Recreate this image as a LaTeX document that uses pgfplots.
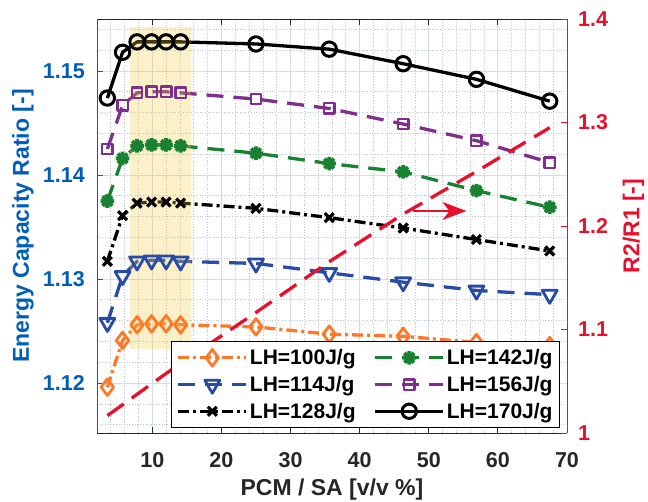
\documentclass[border=0pt]{standalone}
\usepackage{fontspec}
\setmainfont{Liberation Sans}
\usepackage{pgfplots}
\pgfplotsset{compat=1.18}
\usetikzlibrary{arrows.meta}

\definecolor{cOrange}{RGB}{255,120,40}
\definecolor{cBlue}{RGB}{40,75,165}
\definecolor{cGreen}{RGB}{25,130,50}
\definecolor{cPurple}{RGB}{126,47,142}
\definecolor{cRed}{RGB}{232,17,45}
\definecolor{cLeft}{RGB}{0,94,184}
\definecolor{axisgray}{RGB}{38,38,38}
\definecolor{gridmaj}{RGB}{212,220,234}
\definecolor{gridmin}{RGB}{185,195,212}
\definecolor{cHighlight}{RGB}{244,201,58}

% eight-armed star marker
\pgfdeclareplotmark{burst}{%
  \pgfpathmoveto{\pgfqpoint{-\pgfplotmarksize}{0pt}}\pgfpathlineto{\pgfqpoint{\pgfplotmarksize}{0pt}}%
  \pgfpathmoveto{\pgfqpoint{0pt}{-\pgfplotmarksize}}\pgfpathlineto{\pgfqpoint{0pt}{\pgfplotmarksize}}%
  \pgfpathmoveto{\pgfqpointpolar{45}{\pgfplotmarksize}}\pgfpathlineto{\pgfqpointpolar{225}{\pgfplotmarksize}}%
  \pgfpathmoveto{\pgfqpointpolar{135}{\pgfplotmarksize}}\pgfpathlineto{\pgfqpointpolar{315}{\pgfplotmarksize}}%
  \pgfusepathqstroke}

\pgfplotsset{
  lh100/.style={line width=3.3pt, line join=round, cOrange, dash pattern=on 11pt off 4pt on 3pt off 4pt,
    mark=diamond, mark size=8.3pt, mark options={solid, line width=2.8pt}},
  lh114/.style={line width=3.3pt, line join=round, cBlue, dash pattern=on 17pt off 10pt,
    mark=triangle, mark size=8.7pt, mark options={solid, rotate=180, line width=2.8pt}},
  lh128/.style={line width=3.3pt, line join=round, black, dash pattern=on 11pt off 4pt on 3pt off 4pt,
    mark=x, mark size=6.3pt, mark options={solid, line width=3.2pt}},
  lh142/.style={line width=3.3pt, line join=round, cGreen, dash pattern=on 17pt off 10pt,
    mark=burst, mark size=6.8pt, mark options={solid, line width=3.8pt}},
  lh156/.style={line width=3.3pt, line join=round, cPurple, dash pattern=on 17pt off 10pt,
    mark=square, mark size=5.2pt, mark options={solid, line width=2.4pt}},
  lh170/.style={line width=3.3pt, line join=round, black, solid,
    mark=o, mark size=7.2pt, mark options={solid, line width=3pt}},
}
\newcommand{\ticksfont}{\fontsize{21.5}{24}\selectfont\bfseries}

\pgfplotstableread{
x     r100   r114   r128   r142   r156   r170
3.5   1.1196 1.1258 1.1317 1.1375 1.1425 1.1474
5.7   1.1241 1.1303 1.1361 1.1416 1.1467 1.1518
7.8   1.1256 1.1317 1.1373 1.1428 1.1479 1.1528
9.9   1.1257 1.1318 1.1374 1.1429 1.1480 1.1528
12.0  1.1257 1.1318 1.1374 1.1429 1.1480 1.1528
14.1  1.1256 1.1317 1.1373 1.1428 1.1479 1.1528
25.0  1.1254 1.1315 1.1368 1.1421 1.1473 1.1526
35.6  1.1247 1.1306 1.1359 1.1411 1.1464 1.1521
46.3  1.1245 1.1297 1.1349 1.1403 1.1449 1.1507
56.9  1.1239 1.1289 1.1338 1.1385 1.1433 1.1492
67.5  1.1236 1.1285 1.1327 1.1369 1.1412 1.1471
}\ecr

\pgfplotstableread{
x     ratio
3.5   1.0168
5.7   1.0273
7.8   1.0374
9.9   1.0475
12.0  1.0575
14.1  1.0673
25.0  1.1164
35.6  1.1655
46.3  1.2115
56.9  1.2527
67.5  1.2950
}\rratio

\begin{document}
\begin{tikzpicture}
\useasboundingbox (-97pt,-69pt) rectangle (551pt,433pt);

% left axis: energy capacity ratio
\begin{axis}[
  scale only axis, width=470pt, height=414pt,
  xmin=2, xmax=70, ymin=1.1152, ymax=1.155,
  axis x line*=box, axis y line*=left,
  x axis line style={draw=axisgray, line width=0.9pt},
  y axis line style={draw=cLeft, line width=0.9pt},
  xtick={10,20,...,70}, ytick={1.12,1.13,1.14,1.15},
  minor xtick={2,4,6,8,12,14,16,18,22,24,26,28,32,34,36,38,42,44,46,48,52,54,56,58,62,64,66,68},
  minor ytick={1.116,1.118,1.122,1.124,1.126,1.128,1.132,1.134,1.136,1.138,1.142,1.144,1.146,1.148,1.152,1.154},
  grid=both,
  major grid style={draw=gridmaj, line width=0.8pt},
  minor grid style={draw=gridmin, line width=0.7pt, dotted},
  tick align=inside, major tick length=6pt, minor tick length=0pt,
  x tick style={axisgray, line width=0.8pt},
  y tick style={cLeft, line width=0.8pt},
  /pgf/number format/assume math mode=true,
  yticklabel={\pgfmathprintnumber[fixed, fixed zerofill, precision=2]{\tick}},
  xticklabel style={font=\ticksfont, text=axisgray, inner sep=0pt, anchor=north, yshift=-19pt},
  yticklabel style={font=\ticksfont, text=cLeft, inner sep=0pt, anchor=east, xshift=-12pt},
  xlabel={PCM / SA [v/v \%]},
  ylabel={Energy Capacity Ratio [-]},
  xlabel style={font=\fontsize{23}{26}\selectfont\bfseries, text=axisgray,
    at={(axis description cs:0.5,-0.1377)}, anchor=center},
  ylabel style={font=\fontsize{23}{26}\selectfont\bfseries, text=cLeft,
    at={(axis description cs:-0.1574,0.5)}, anchor=center},
  clip=false,
]
\addplot[lh100] table[x=x, y=r100] {\ecr};
\addplot[lh114] table[x=x, y=r114] {\ecr};
\addplot[lh128] table[x=x, y=r128] {\ecr};
\addplot[lh142] table[x=x, y=r142] {\ecr};
\addplot[lh156] table[x=x, y=r156] {\ecr};
\addplot[lh170] table[x=x, y=r170] {\ecr};
% highlighted range of low volume ratios
\fill[cHighlight, opacity=0.28] (axis cs:6.8,1.1233) rectangle (axis cs:15.6,1.1542);
\end{axis}

% right axis: resistance ratio
\begin{axis}[
  scale only axis, width=470pt, height=414pt,
  xmin=2, xmax=70, ymin=1, ymax=1.4,
  axis x line=none, axis y line*=right,
  y axis line style={draw=cRed, line width=0.9pt},
  ytick={1,1.1,1.2,1.3,1.4},
  tick align=inside, major tick length=6pt, minor tick length=0pt,
  y tick style={cRed, line width=0.8pt},
  /pgf/number format/assume math mode=true,
  yticklabel style={font=\ticksfont, text=cRed, inner sep=0pt, anchor=west, xshift=11pt},
  ylabel={R2/R1 [-]},
  ylabel style={font=\fontsize{23}{26}\selectfont\bfseries, text=cRed,
    at={(axis description cs:1.1415,0.5)}, anchor=center},
  legend columns=2,
  legend cell align=left,
  legend image code/.code={\draw[mark repeat=2, mark phase=2, #1] plot coordinates {(0pt,0pt) (34pt,0pt) (68pt,0pt)};},
  legend style={at={(rel axis cs:0.985,0.012)}, anchor=south east,
    font=\fontsize{21}{24}\selectfont\bfseries, draw=black, line width=0.8pt,
    fill=white, inner xsep=5pt, inner ysep=6pt, row sep=6pt,
    /tikz/every even column/.append style={column sep=16pt}},
]
\addplot[cRed, line width=3.3pt, dash pattern=on 20pt off 10pt, forget plot] table[x=x, y=ratio] {\rratio};
\draw[cRed, line width=1.3pt, -{Stealth[length=24pt, width=18pt, inset=7pt]}]
  (axis cs:47.7,1.2145) -- (axis cs:55.45,1.2145);
\addlegendimage{lh100}\addlegendentry{LH=100J/g}
\addlegendimage{lh142}\addlegendentry{LH=142J/g}
\addlegendimage{lh114}\addlegendentry{LH=114J/g}
\addlegendimage{lh156}\addlegendentry{LH=156J/g}
\addlegendimage{lh128}\addlegendentry{LH=128J/g}
\addlegendimage{lh170}\addlegendentry{LH=170J/g}
\end{axis}
\end{tikzpicture}
\end{document}
